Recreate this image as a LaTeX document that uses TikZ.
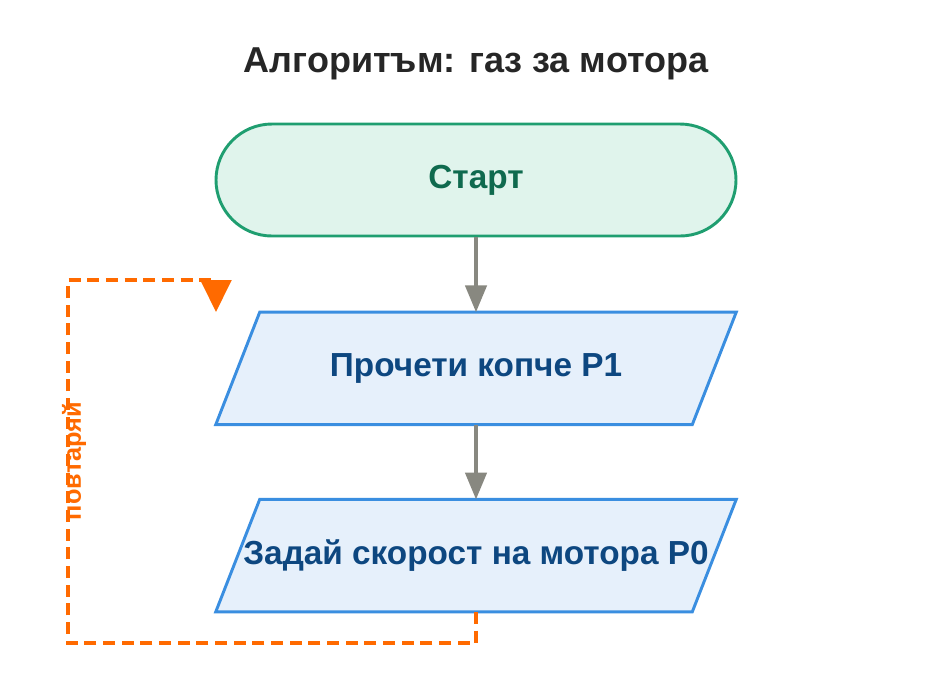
\documentclass[tikz,border=0pt]{standalone}
\usepackage{fontspec}
\setmainfont{Liberation Sans}
\usetikzlibrary{positioning, arrows.meta, calc, backgrounds}
\definecolor{termline}{HTML}{1F9E70}
\definecolor{termfill}{HTML}{E0F4EC}
\definecolor{termtext}{HTML}{0F6A4E}
\definecolor{ioline}{HTML}{3A8EE0}
\definecolor{iofill}{HTML}{E6F0FB}
\definecolor{iotext}{HTML}{0D4780}
\definecolor{loopcol}{HTML}{FF6A00}
\definecolor{flowcol}{HTML}{888880}
\newcommand{\ioshape}[1]{%
  \filldraw[draw=ioline, fill=iofill, line width=2.2pt] (#1.south west) -- ($(#1.north west)+(44,0)$) -- (#1.north east) -- ($(#1.south east)+(-44,0)$) -- cycle;}
\begin{document}
\begin{tikzpicture}[x=0.75pt, y=-0.75pt, >=Stealth, node distance=56pt, every node/.style={font=\bfseries}]
  \tikzset{terminal/.style={draw=termline, fill=termfill, text=termtext, line width=2.2pt, rounded corners=42pt, minimum width=390pt, minimum height=84pt, font=\fontsize{25}{29}\selectfont\bfseries},
    io/.style={inner sep=0pt, text=iotext, minimum width=390pt, minimum height=84pt, font=\fontsize{25}{29}\selectfont\bfseries},
    flow/.style={draw=flowcol, line width=2.4pt, -{Triangle[width=16pt, length=20pt]}},
    loop/.style={draw=loopcol, line width=2.4pt, dash pattern=on 9pt off 5pt}}
  \useasboundingbox (0,0) rectangle (952,676);
  \node[font=\fontsize{27}{32}\selectfont\bfseries, text=black!85] (title) at (476,64) {Алгоритъм: газ за мотора};
  \node[terminal] (start) at (476,180) {Старт};
  \node[io, below=of start] (read) {Прочети копче P1};
  \node[io, below=of read] (set) {Задай скорост на мотора P0};
  \begin{scope}[on background layer]
    \ioshape{read}
    \ioshape{set}
  \end{scope}

  \draw[flow] (start) -- (read);
  \draw[flow] (read) -- (set);

  % repeat loop
  \coordinate (c1) at (476,643);
  \coordinate (c2) at (68,643);
  \coordinate (c3) at (68,280);
  \coordinate (c4) at (216,280);
  \coordinate (c5) at (216,312);
  \draw[loop] (set.south) -- (c1) -- (c2) -- (c3) -- (c4);
  \draw[draw=loopcol, line width=2.4pt, -{Triangle[width=23pt, length=24pt]}] (c4) -- (c5);
  \node[rotate=90, text=loopcol, font=\fontsize{19}{22}\selectfont\bfseries] (rep) at (74,461) {повтаряй};
\end{tikzpicture}
\end{document}
